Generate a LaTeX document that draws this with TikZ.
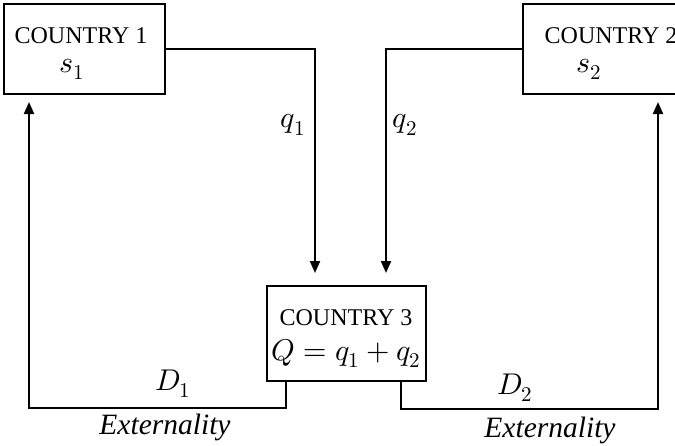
\documentclass[tikz,border=0pt]{standalone}
\usepackage{fontspec}
\usepackage{unicode-math}
\setmainfont{Liberation Serif}
\setmathfont{Latin Modern Math}
\usetikzlibrary{arrows.meta}
\begin{document}
\begin{tikzpicture}[x=1pt,y=-1pt,
  box/.style={draw, line width=1.2pt, rectangle, inner sep=0pt, align=center},
  conn/.style={line width=2pt},
  arr/.style={line width=2pt, -{Triangle[length=12pt,width=10pt]}},
  ctext/.style={font=\fontsize{24}{28}\selectfont},
  mtext/.style={font=\fontsize{30}{34}\selectfont},
  ext/.style={font=\fontsize{29.5}{32}\selectfont\itshape}]
\useasboundingbox (0,0) rectangle (675,445);
% boxes
\node[box, minimum width=161pt, minimum height=90pt] (c1) at (84.5,49) {};
\node[box, minimum width=167pt, minimum height=90pt] (c2) at (606.5,49) {};
\node[box, minimum width=159pt, minimum height=95pt] (c3) at (346.5,333.5) {};
% box texts
\node[ctext, anchor=base] (t1) at (81,43) {COUNTRY 1};
\node[mtext, anchor=base] (s1) at (72,72) {$s_1$};
\node[ctext, anchor=base] (t2) at (611,43) {COUNTRY 2};
\node[mtext, anchor=base] (s2) at (589,72) {$s_2$};
\node[ctext, anchor=base] (t3) at (346,325) {COUNTRY 3};
\node[mtext, anchor=base] (qq) at (346,360) {$Q = q_1 + q_2$};
% coordinates
\coordinate (a1) at (315,49);
\coordinate (a1t) at (315,273);
\coordinate (a2) at (386,49);
\coordinate (a2t) at (386,273);
\coordinate (b1) at (286,381);
\coordinate (b1c) at (286,408);
\coordinate (b1l) at (29,408);
\coordinate (b1t) at (29,102);
\coordinate (b2) at (401,381);
\coordinate (b2c) at (401,409);
\coordinate (b2r) at (658,409);
\coordinate (b2t) at (658,102);
% connectors
\draw[arr] (c1.east |- a1) -- (a1) -- (a1t);
\draw[arr] (c2.west |- a2) -- (a2) -- (a2t);
\draw[arr] (b1) -- (b1c) -- (b1l) -- (b1t);
\draw[arr] (b2) -- (b2c) -- (b2r) -- (b2t);
% labels
\node[mtext] (lq1) at (293,125) {$q_1$};
\node[mtext] (lq2) at (405,125) {$q_2$};
\node[mtext] (ld1) at (173,384) {$D_1$};
\node[mtext] (ld2) at (515,388) {$D_2$};
\node[ext] (e1) at (165,427) {Externality};
\node[ext] (e2) at (550,430) {Externality};
\end{tikzpicture}
\end{document}
